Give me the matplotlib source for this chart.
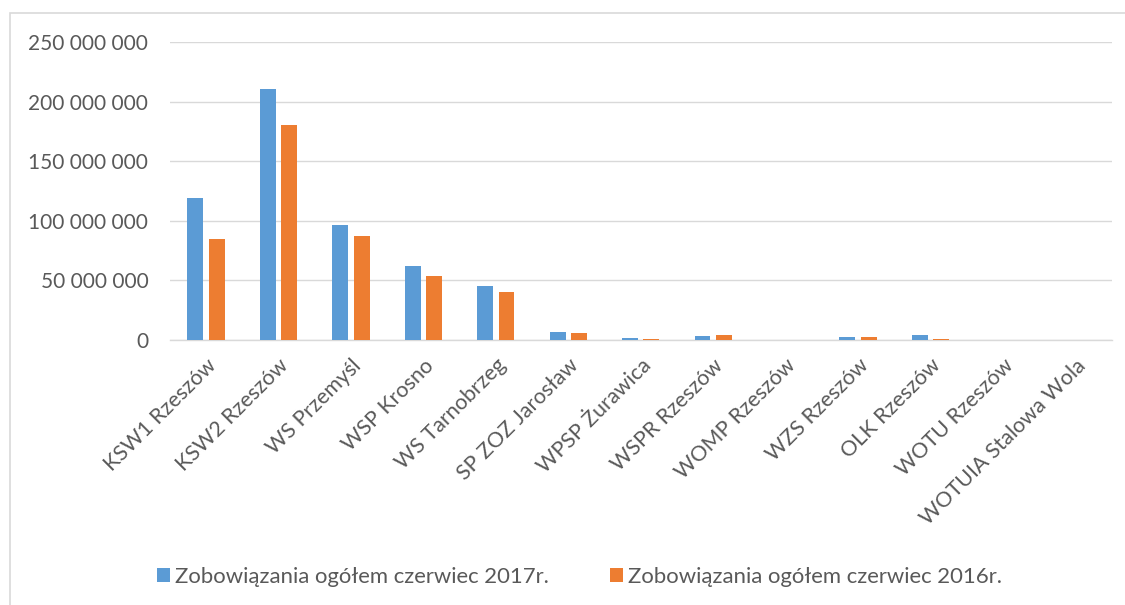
import numpy as np
import matplotlib.pyplot as plt
from matplotlib.patches import Rectangle

plt.rcParams['font.family'] = ['Lato', 'DejaVu Sans']

categories = ["KSW1 Rzeszów", "KSW2 Rzeszów", "WS Przemyśl", "WSP Krosno", "WS Tarnobrzeg",
              "SP ZOZ Jarosław", "WPSP Żurawica", "WSPR Rzeszów", "WOMP Rzeszów", "WZS Rzeszów",
              "OLK Rzeszów", "WOTU Rzeszów", "WOTUIA Stalowa Wola"]
val_2017 = [119.0e6, 210.6e6, 96.5e6, 62.0e6, 45.3e6, 6.7e6, 1.4e6, 3.6e6, 0.0, 2.8e6, 4.5e6, 0.2e6, 0.0]
val_2016 = [84.7e6, 180.0e6, 87.0e6, 53.7e6, 40.3e6, 6.1e6, 1.2e6, 4.2e6, 0.0, 2.8e6, 1.2e6, 0.1e6, 0.0]
labels = ["Zobowiązania ogółem czerwiec 2017r.", "Zobowiązania ogółem czerwiec 2016r."]
yticks = [0, 50e6, 100e6, 150e6, 200e6, 250e6]

blue = "#5b9bd5"
orange = "#ed7d31"
txt = "#595959"

fig = plt.figure(figsize=(11.25, 6.05), dpi=100)
ax = fig.add_axes([0.151, 0.438, 0.837, 0.4926])

x = np.arange(len(categories))
w = 0.22
ax.bar(x - 0.147, val_2017, w, color=blue, label=labels[0], zorder=3)
ax.bar(x + 0.147, val_2016, w, color=orange, label=labels[1], zorder=3)

ax.set_xlim(-0.5, len(categories) - 0.5)
ax.set_ylim(0, 250e6)
ax.set_yticks(yticks)
ax.set_yticklabels([f"{int(v):,}".replace(",", " ") for v in yticks], fontsize=15, color=txt)
ax.set_xticks(x)
ax.set_xticklabels(categories, rotation=45, ha="right", rotation_mode="anchor", fontsize=15.5, color=txt)
ax.tick_params(axis="both", length=0)
ax.tick_params(axis="y", pad=15.5)
ax.tick_params(axis="x", pad=11)
ax.grid(axis="y", color="#d9d9d9", linewidth=1, zorder=0)
for s in ["top", "right", "left"]:
    ax.spines[s].set_visible(False)
ax.spines["bottom"].set_color("#d9d9d9")
ax.spines["bottom"].set_linewidth(1)

fig.legend(loc="center", bbox_to_anchor=(0.515, 0.046), ncol=2, frameon=False,
           fontsize=15.9, labelcolor=txt, handlelength=0.6, handleheight=0.6,
           handletextpad=0.2, columnspacing=2.8)

fig.patches.append(Rectangle((0.009, -0.1), 1.2, 1.0785, transform=fig.transFigure,
                             fill=False, edgecolor="#d9d9d9", linewidth=1.2))

fig.savefig("out.png", dpi=100)
